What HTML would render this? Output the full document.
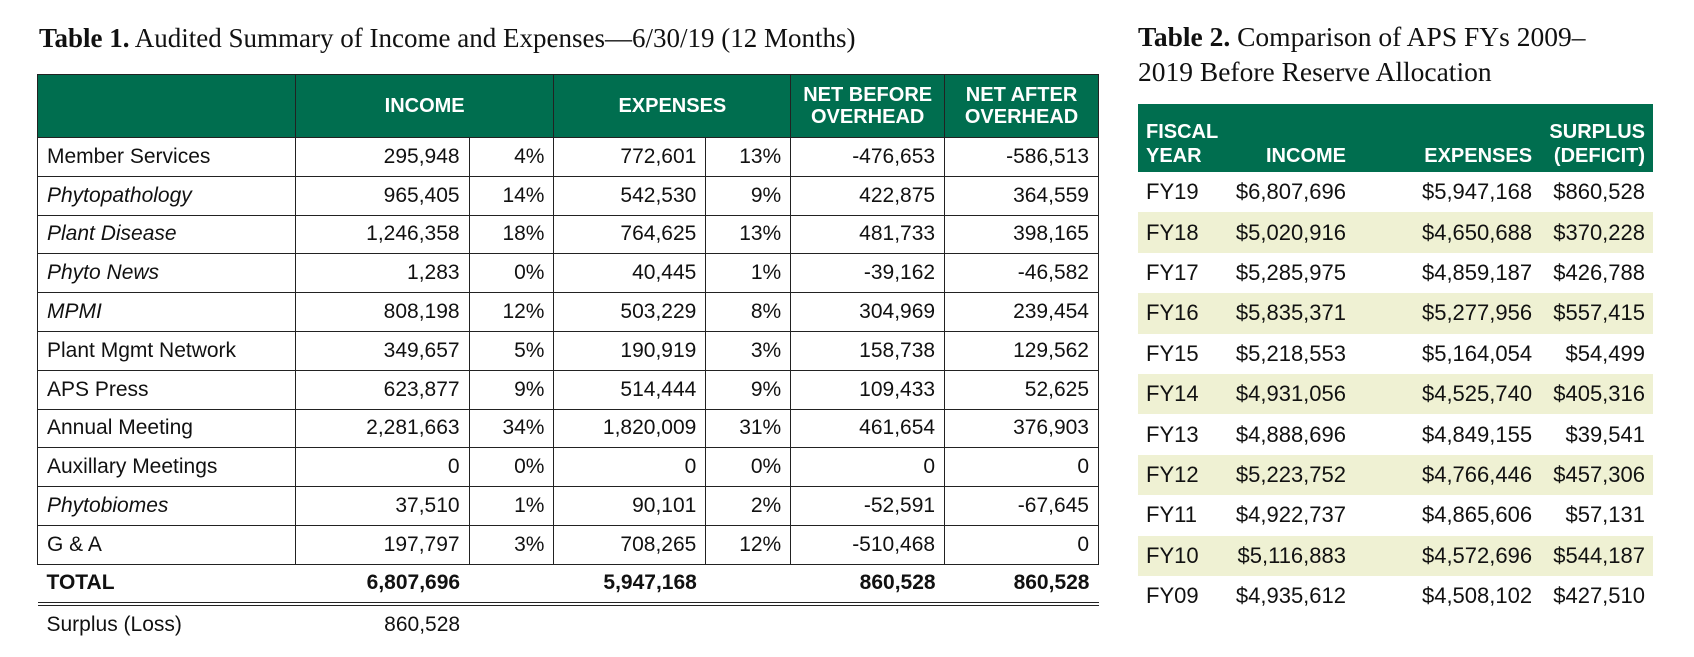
<!DOCTYPE html>
<html><head><meta charset="utf-8"><style>
body{margin:0;width:1694px;height:657px;background:#fff;position:relative;font-family:"Liberation Sans",sans-serif;color:#111;overflow:hidden}
.t{position:absolute;font-family:"Liberation Serif",serif;font-size:27px;white-space:nowrap;color:#111}
table{border-collapse:collapse;position:absolute;font-size:21px}
#t1{left:37px;top:74px;width:1062px}
#t1 td{border:1.5px solid #222;height:37.8px;padding:0 9px;white-space:nowrap}
#t1 th{background:#006e4f;color:#fff;font-weight:bold;height:60px;border-left:1.5px solid #222;font-size:20px;line-height:22px;border-top:1.5px solid #222}
#t1 td.n{text-align:right}
#t1 tr.tot td{border:none;border-bottom:4px double #222;font-weight:bold;height:37px}
#t1 tr.sur td{border:none;height:38px}
i{font-style:italic}
#t2{left:1138px;top:104px;width:515px}
#t2 th{background:#006e4f;color:#fff;font-weight:bold;font-size:20px;line-height:24px;height:64px;padding:0 8px;vertical-align:bottom;padding-bottom:4px;text-align:right}
#t2 td{height:40.4px;padding:0 8px;text-align:right;font-size:22px;white-space:nowrap}
#t2 tr.s td{background:#eff1d3}
#t2 td:first-child,#t2 th:first-child{text-align:left}
</style></head><body>
<div class="t" style="left:39px;top:23px"><b>Table 1.</b> Audited Summary of Income and Expenses—6/30/19 (12 Months)</div>
<div class="t" style="left:1138px;top:19px;line-height:35px;font-size:27.5px"><b>Table 2.</b> Comparison of APS FYs 2009–<br>2019 Before Reserve Allocation</div>
<table id="t1">
<colgroup><col style="width:258px"><col style="width:174px"><col style="width:85px"><col style="width:152px"><col style="width:85px"><col style="width:154px"><col style="width:154px"></colgroup>
<tr><th style="border-left:1.5px solid #222"></th><th colspan="2">INCOME</th><th colspan="2">EXPENSES</th><th>NET BEFORE<br>OVERHEAD</th><th style="border-right:1.5px solid #222">NET AFTER<br>OVERHEAD</th></tr>
<tr><td>Member Services</td><td class="n">295,948</td><td class="n">4%</td><td class="n">772,601</td><td class="n">13%</td><td class="n">-476,653</td><td class="n">-586,513</td></tr>
<tr><td><i>Phytopathology</i></td><td class="n">965,405</td><td class="n">14%</td><td class="n">542,530</td><td class="n">9%</td><td class="n">422,875</td><td class="n">364,559</td></tr>
<tr><td><i>Plant Disease</i></td><td class="n">1,246,358</td><td class="n">18%</td><td class="n">764,625</td><td class="n">13%</td><td class="n">481,733</td><td class="n">398,165</td></tr>
<tr><td><i>Phyto News</i></td><td class="n">1,283</td><td class="n">0%</td><td class="n">40,445</td><td class="n">1%</td><td class="n">-39,162</td><td class="n">-46,582</td></tr>
<tr><td><i>MPMI</i></td><td class="n">808,198</td><td class="n">12%</td><td class="n">503,229</td><td class="n">8%</td><td class="n">304,969</td><td class="n">239,454</td></tr>
<tr><td>Plant Mgmt Network</td><td class="n">349,657</td><td class="n">5%</td><td class="n">190,919</td><td class="n">3%</td><td class="n">158,738</td><td class="n">129,562</td></tr>
<tr><td>APS Press</td><td class="n">623,877</td><td class="n">9%</td><td class="n">514,444</td><td class="n">9%</td><td class="n">109,433</td><td class="n">52,625</td></tr>
<tr><td>Annual Meeting</td><td class="n">2,281,663</td><td class="n">34%</td><td class="n">1,820,009</td><td class="n">31%</td><td class="n">461,654</td><td class="n">376,903</td></tr>
<tr><td>Auxillary Meetings</td><td class="n">0</td><td class="n">0%</td><td class="n">0</td><td class="n">0%</td><td class="n">0</td><td class="n">0</td></tr>
<tr><td><i>Phytobiomes</i></td><td class="n">37,510</td><td class="n">1%</td><td class="n">90,101</td><td class="n">2%</td><td class="n">-52,591</td><td class="n">-67,645</td></tr>
<tr><td>G &amp; A</td><td class="n">197,797</td><td class="n">3%</td><td class="n">708,265</td><td class="n">12%</td><td class="n">-510,468</td><td class="n">0</td></tr>
<tr class="tot"><td>TOTAL</td><td class="n">6,807,696</td><td></td><td class="n">5,947,168</td><td></td><td class="n">860,528</td><td class="n">860,528</td></tr>
<tr class="sur"><td>Surplus (Loss)</td><td class="n">860,528</td><td></td><td></td><td></td><td></td><td></td></tr>
</table>
<table id="t2">
<colgroup><col style="width:90px"><col style="width:122px"><col style="width:190px"><col style="width:113px"></colgroup>
<tr><th>FISCAL<br>YEAR</th><th>INCOME</th><th>EXPENSES</th><th>SURPLUS<br>(DEFICIT)</th></tr>
<tr><td>FY19</td><td>$6,807,696</td><td>$5,947,168</td><td>$860,528</td></tr>
<tr class="s"><td>FY18</td><td>$5,020,916</td><td>$4,650,688</td><td>$370,228</td></tr>
<tr><td>FY17</td><td>$5,285,975</td><td>$4,859,187</td><td>$426,788</td></tr>
<tr class="s"><td>FY16</td><td>$5,835,371</td><td>$5,277,956</td><td>$557,415</td></tr>
<tr><td>FY15</td><td>$5,218,553</td><td>$5,164,054</td><td>$54,499</td></tr>
<tr class="s"><td>FY14</td><td>$4,931,056</td><td>$4,525,740</td><td>$405,316</td></tr>
<tr><td>FY13</td><td>$4,888,696</td><td>$4,849,155</td><td>$39,541</td></tr>
<tr class="s"><td>FY12</td><td>$5,223,752</td><td>$4,766,446</td><td>$457,306</td></tr>
<tr><td>FY11</td><td>$4,922,737</td><td>$4,865,606</td><td>$57,131</td></tr>
<tr class="s"><td>FY10</td><td>$5,116,883</td><td>$4,572,696</td><td>$544,187</td></tr>
<tr><td>FY09</td><td>$4,935,612</td><td>$4,508,102</td><td>$427,510</td></tr>
</table>
</body></html>
